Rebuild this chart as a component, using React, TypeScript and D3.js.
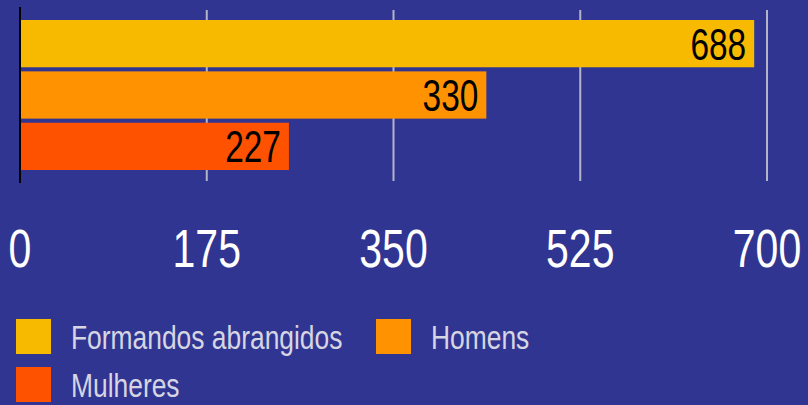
import React from "react";
import * as d3 from "d3";

const categories = ["Formandos abrangidos", "Homens", "Mulheres"];
const barValues = [688, 437, 252];
const barLabels = ["688", "330", "227"];
const colors = ["#F7BA00", "#FF9200", "#FF5200"];
const tickValues = [0, 175, 350, 525, 700];

const W = 808;
const H = 405;
const FONT = "'Liberation Sans', Arial, sans-serif";

function NarrowText(props: {
  x: number;
  y: number;
  sx: number;
  anchor?: "start" | "middle" | "end";
  size: number;
  fill: string;
  children: React.ReactNode;
}) {
  return (
    <text
      transform={`translate(${props.x},${props.y}) scale(${props.sx},1)`}
      textAnchor={props.anchor || "start"}
      fontFamily={FONT}
      fontSize={props.size}
      fill={props.fill}
    >
      {props.children}
    </text>
  );
}

export default function App() {
  const x = d3.scaleLinear().domain([0, 700]).range([20, 767]);
  const y = d3.scaleBand<string>().domain(categories).range([20, 170]).paddingInner(0.08).paddingOuter(0);

  const legendItems = [
    { name: categories[0], color: colors[0], lx: 16, ly: 319 },
    { name: categories[1], color: colors[1], lx: 376, ly: 319 },
    { name: categories[2], color: colors[2], lx: 16, ly: 367 },
  ];

  return (
    <div style={{ position: "fixed", left: 0, top: 0, width: W, height: H }}>
      <svg width={W} height={H} style={{ display: "block" }}>
        <rect x={0} y={0} width={W} height={H} fill="#313592" />
        {tickValues.slice(1).map((t) => (
          <line key={t} x1={x(t)} x2={x(t)} y1={10} y2={181} stroke="#b4b4c8" strokeWidth={2} />
        ))}
        {categories.map((c, i) => (
          <g key={c}>
            <rect
              x={x(0) + 1}
              y={y(c)}
              width={x(barValues[i]) - x(0) - 1}
              height={y.bandwidth()}
              fill={colors[i]}
            />
            <NarrowText
              x={x(barValues[i]) - 8}
              y={(y(c) as number) + y.bandwidth() / 2 + 16}
              sx={0.76}
              anchor="end"
              size={44}
              fill="#000"
            >
              {barLabels[i]}
            </NarrowText>
          </g>
        ))}
        <line x1={x(0)} x2={x(0)} y1={7} y2={183} stroke="#000" strokeWidth={2} />
        {tickValues.map((t) => (
          <NarrowText key={t} x={x(t)} y={267} sx={0.76} anchor="middle" size={54} fill="#fff">
            {t}
          </NarrowText>
        ))}
        {legendItems.map((it) => (
          <g key={it.name}>
            <rect x={it.lx} y={it.ly} width={35} height={35} fill={it.color} />
            <NarrowText x={it.lx + 55} y={it.ly + 30} sx={0.8} size={33} fill="#d6d6e2">
              {it.name}
            </NarrowText>
          </g>
        ))}
      </svg>
    </div>
  );
}
